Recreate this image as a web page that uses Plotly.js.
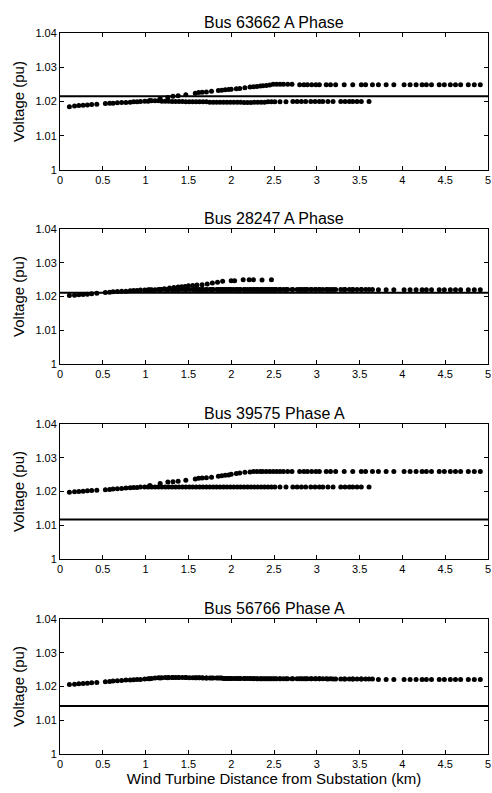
<!DOCTYPE html>
<html>
<head>
<meta charset="utf-8">
<script src="https://cdn.plot.ly/plotly-3.0.1.min.js"></script>
<style>html,body{margin:0;padding:0;background:#fff;}#chart{width:492px;height:793px;}</style>
</head>
<body>
<div id="chart"></div>
<script>
// ---- data ----
const titles = ["Bus 63662 A Phase", "Bus 28247 A Phase", "Bus 39575 Phase A", "Bus 56766 Phase A"];
const yTitle = "Voltage (pu)";
const xTitle = "Wind Turbine Distance from Substation (km)";
const yTickVals = [1, 1.01, 1.02, 1.03, 1.04];
const yTickText = ["1", "1.01", "1.02", "1.03", "1.04"];
const xTickVals = [0, 0.5, 1, 1.5, 2, 2.5, 3, 3.5, 4, 4.5, 5];
const xTickText = ["0", "0.5", "1", "1.5", "2", "2.5", "3", "3.5", "4", "4.5", "5"];

// limit lines (pu)
const limitLevels = [1.0215, 1.0211, 1.0117, 1.0142];

// main feeder positions (km)
const xLow = [0.11,0.17,0.22,0.27,0.32,0.37,0.43,0.53,0.58,0.62,0.67,0.72,0.77,0.82,0.86,0.90,0.94,0.99,
  1.03,1.07,1.11,1.15,1.19,1.23,1.27,1.31,1.35,1.39,1.43,1.47,1.51,1.55,1.59,1.63,1.67,1.71,1.75,1.79,1.83,1.87,1.91,1.95,1.99,2.03,2.07,2.11,2.15,2.19,2.23,2.27,2.31,2.35,2.39,2.43,2.47,2.51,
  2.57,2.64,2.72,2.77,2.82,2.87,2.93,2.98,3.03,3.07,3.13,3.19,3.28,3.33,3.38,3.42,3.47,3.52,3.61];
// lateral branch positions (km)
const xHigh = [1.05,1.17,1.26,1.32,1.38,1.47,1.58,1.62,1.66,1.71,
  1.77,1.85,1.89,1.93,1.97,2.00,2.06,2.10,2.16,2.22,
  2.26,2.30,2.34,2.37,2.41,2.45,2.49,2.53,2.57,2.61,
  2.66,2.71,2.80,2.85,2.89,2.94,2.99,3.03,3.11,3.16,
  3.22,3.32,3.42,3.52,3.57,3.65,3.72,3.81,3.90,4.02,
  4.09,4.16,4.23,4.28,4.34,4.43,4.49,4.56,4.62,4.68,
  4.77,4.84,4.91];
// short branch seen on bus 28247
const xBranch2 = [1.22,1.28,1.33,1.38,1.42,1.46,1.50,1.55,1.60,1.66,1.72,1.78,1.84,1.90,2.00,2.04,2.14,2.21,2.26,2.36,2.47];

// Bus 63662
const v1Low = [1.0185,1.0187,1.0188,1.0189,1.0190,1.0191,1.0192,1.0194,1.0195,1.0195,1.0196,1.0197,1.0197,1.0198,1.0199,1.0199,1.0200,1.0201,
  1.0201,1.0202,1.0202,1.0202,1.0201,1.0201,1.0201,1.0200,1.0200,1.0200,1.0200,1.0199,1.0199,1.0199,1.0199,1.0199,1.0199,1.0199,1.0198,1.0198,1.0198,1.0198,1.0198,1.0198,1.0198,1.0198,1.0198,1.0198,1.0197,1.0197,1.0197,1.0198,1.0198,1.0198,1.0198,1.0199,1.0199,1.0199,
  1.0199,1.0199,1.0200,1.0200,1.0200,1.0200,1.0200,1.0200,1.0200,1.0200,1.0200,1.0200,1.0200,1.0200,1.0200,1.0200,1.0200,1.0200,1.0200];
const v1High = [1.0203,1.0208,1.0212,1.0215,1.0217,1.0220,1.0224,1.0226,1.0227,1.0228,
  1.0230,1.0232,1.0233,1.0234,1.0235,1.0236,1.0237,1.0238,1.0240,1.0242,
  1.0243,1.0244,1.0245,1.0246,1.0247,1.0248,1.0250,1.0250,1.0250,1.0250,
  1.0250,1.0250,1.0249,1.0249,1.0249,1.0249,1.0249,1.0249,1.0249,1.0249,
  1.0249,1.0249,1.0249,1.0249,1.0249,1.0249,1.0249,1.0249,1.0249,1.0249,
  1.0249,1.0249,1.0249,1.0249,1.0249,1.0249,1.0249,1.0249,1.0249,1.0249,
  1.0249,1.0249,1.0249];

// Bus 28247
const v2Low = [1.0203,1.0204,1.0205,1.0206,1.0207,1.0208,1.0210,1.0212,1.0213,1.0214,1.0215,1.0216,1.0216,1.0217,1.0218,1.0218,1.0219,1.0219,
  1.0220,1.0220,1.0220,1.0221,1.0221,1.0221,1.0221,1.0221,1.0221,1.0221,1.0221,1.0221,1.0221,1.0221,1.0221,1.0221,1.0221,1.0221,1.0221,1.0221,1.0221,1.0221,1.0221,1.0221,1.0221,1.0221,1.0221,1.0221,1.0221,1.0221,1.0221,1.0221,1.0221,1.0221,1.0221,1.0221,1.0221,1.0221,
  1.0221,1.0221,1.0221,1.0221,1.0221,1.0221,1.0221,1.0221,1.0221,1.0221,1.0221,1.0221,1.0221,1.0221,1.0221,1.0221,1.0221,1.0221,1.0221];
const v2High = [1.0220,1.0221,1.0221,1.0221,1.0221,1.0221,1.0221,1.0221,1.0221,1.0221,
  1.0221,1.0221,1.0221,1.0221,1.0221,1.0221,1.0221,1.0221,1.0221,1.0221,
  1.0221,1.0221,1.0221,1.0221,1.0221,1.0221,1.0221,1.0221,1.0221,1.0221,
  1.0221,1.0221,1.0221,1.0221,1.0221,1.0221,1.0221,1.0221,1.0221,1.0221,
  1.0221,1.0221,1.0221,1.0221,1.0221,1.0221,1.0220,1.0220,1.0220,1.0220,
  1.0220,1.0220,1.0220,1.0220,1.0220,1.0220,1.0220,1.0220,1.0220,1.0220,
  1.0220,1.0220,1.0220];
const v2Branch = [1.0223,1.0225,1.0227,1.0228,1.0229,1.0230,1.0232,1.0233,1.0234,1.0235,1.0237,1.0240,1.0242,1.0245,1.0247,1.0247,1.0250,1.0250,1.0250,1.0249,1.0250];

// Bus 39575
const v3Low = [1.0198,1.0199,1.0200,1.0201,1.0202,1.0203,1.0204,1.0205,1.0206,1.0207,1.0208,1.0209,1.0210,1.0211,1.0212,1.0212,1.0213,1.0213,
  1.0213,1.0213,1.0213,1.0213,1.0213,1.0213,1.0213,1.0213,1.0213,1.0213,1.0213,1.0213,1.0213,1.0213,1.0213,1.0213,1.0213,1.0213,1.0213,1.0213,1.0213,1.0213,1.0213,1.0213,1.0213,1.0213,1.0213,1.0213,1.0213,1.0213,1.0213,1.0213,1.0213,1.0213,1.0213,1.0213,1.0213,1.0213,
  1.0213,1.0213,1.0213,1.0213,1.0213,1.0213,1.0213,1.0213,1.0213,1.0213,1.0213,1.0213,1.0213,1.0213,1.0213,1.0213,1.0213,1.0213,1.0213];
const v3High = [1.0218,1.0224,1.0228,1.0229,1.0230,1.0233,1.0237,1.0239,1.0240,1.0241,
  1.0242,1.0245,1.0247,1.0248,1.0249,1.0251,1.0253,1.0255,1.0257,1.0258,
  1.0259,1.0259,1.0259,1.0259,1.0259,1.0259,1.0259,1.0259,1.0259,1.0259,
  1.0259,1.0259,1.0259,1.0259,1.0259,1.0259,1.0259,1.0259,1.0259,1.0259,
  1.0259,1.0259,1.0259,1.0259,1.0259,1.0259,1.0259,1.0259,1.0259,1.0259,
  1.0259,1.0259,1.0259,1.0259,1.0259,1.0259,1.0259,1.0259,1.0259,1.0259,
  1.0259,1.0259,1.0259];

// Bus 56766
const v4Low = [1.0206,1.0207,1.0208,1.0209,1.0210,1.0211,1.0212,1.0214,1.0215,1.0216,1.0217,1.0218,1.0219,1.0219,1.0220,1.0221,1.0221,1.0222,
  1.0223,1.0224,1.0225,1.0226,1.0226,1.0227,1.0227,1.0227,1.0227,1.0227,1.0227,1.0227,1.0226,
  1.0226,1.0226,1.0226,1.0225,1.0225,1.0225,1.0225,1.0225,1.0225,1.0224,1.0224,1.0224,1.0224,1.0224,1.0224,1.0224,1.0224,1.0224,1.0224,1.0223,1.0223,1.0223,1.0223,1.0223,1.0223,
  1.0223,1.0223,1.0223,1.0223,1.0223,1.0223,1.0223,1.0223,1.0223,1.0223,1.0222,1.0222,1.0222,1.0222,1.0222,1.0222,1.0222,1.0222,1.0222];
const v4High = [1.0223,1.0225,1.0226,1.0227,1.0227,1.0227,1.0226,1.0226,1.0226,1.0225,
  1.0225,1.0225,1.0225,1.0224,1.0224,1.0224,1.0224,1.0224,1.0224,1.0224,
  1.0223,1.0223,1.0223,1.0223,1.0223,1.0223,1.0223,1.0223,1.0223,1.0223,
  1.0223,1.0223,1.0223,1.0223,1.0223,1.0223,1.0223,1.0223,1.0223,1.0223,
  1.0222,1.0222,1.0222,1.0222,1.0222,1.0222,1.0221,1.0221,1.0221,1.0221,
  1.0221,1.0221,1.0221,1.0221,1.0221,1.0221,1.0221,1.0221,1.0221,1.0221,
  1.0221,1.0221,1.0221];

// ---- build ----
const FONT = "Arial, 'Liberation Sans', Helvetica, sans-serif";
const domains = [[0.810, 1.0], [0.541, 0.728], [0.2705, 0.4577], [0.0, 0.1872]];
const series = [
  [[xLow, v1Low], [xHigh, v1High]],
  [[xLow, v2Low], [xHigh, v2High], [xBranch2, v2Branch]],
  [[xLow, v3Low], [xHigh, v3High]],
  [[xLow, v4Low], [xHigh, v4High]]
];
const traces = [];
const layout = {
  width: 492, height: 793,
  margin: {l: 60, r: 4, t: 33, b: 39},
  paper_bgcolor: "#ffffff", plot_bgcolor: "#ffffff",
  showlegend: false,
  font: {family: FONT, size: 11, color: "#000"},
  annotations: []
};
for (let k = 0; k < 4; k++) {
  const sfx = k === 0 ? "" : String(k + 1);
  const xa = "x" + sfx, ya = "y" + sfx;
  series[k].forEach(s => {
    traces.push({type: "scatter", mode: "markers", x: s[0], y: s[1], xaxis: xa, yaxis: ya,
      marker: {color: "#000", size: 5}, hoverinfo: "skip"});
  });
  traces.push({type: "scatter", mode: "lines", x: [0, 5], y: [limitLevels[k], limitLevels[k]],
    xaxis: xa, yaxis: ya, line: {color: "#000", width: 2}, hoverinfo: "skip"});
  layout["xaxis" + sfx] = {
    domain: [0, 1], anchor: ya, range: [0, 5],
    tickmode: "array", tickvals: xTickVals, ticktext: xTickText,
    ticks: "inside", ticklen: 4, tickcolor: "#000", tickwidth: 1,
    showline: true, linecolor: "#000", linewidth: 1, mirror: "ticks",
    showgrid: false, zeroline: false, tickfont: {size: 11, family: FONT, color: "#000"},
    title: k === 3 ? {text: xTitle, font: {size: 15, family: FONT, color: "#000"}, standoff: 3} : {text: ""}
  };
  layout["yaxis" + sfx] = {
    domain: domains[k], anchor: xa, range: [1, 1.04],
    tickmode: "array", tickvals: yTickVals, ticktext: yTickText,
    ticks: "inside", ticklen: 4, tickcolor: "#000", tickwidth: 1,
    showline: true, linecolor: "#000", linewidth: 1, mirror: "ticks",
    showgrid: false, zeroline: false, tickfont: {size: 11, family: FONT, color: "#000"},
    title: {text: yTitle, font: {size: 15, family: FONT, color: "#000"}, standoff: 7}
  };
  layout.annotations.push({
    text: titles[k], xref: "paper", yref: "paper", x: 0.5, y: domains[k][1],
    xanchor: "center", yanchor: "bottom", yshift: 0, showarrow: false,
    font: {size: 16, family: FONT, color: "#000"}
  });
}
Plotly.newPlot("chart", traces, layout, {displayModeBar: false, staticPlot: true});
</script>
</body>
</html>
